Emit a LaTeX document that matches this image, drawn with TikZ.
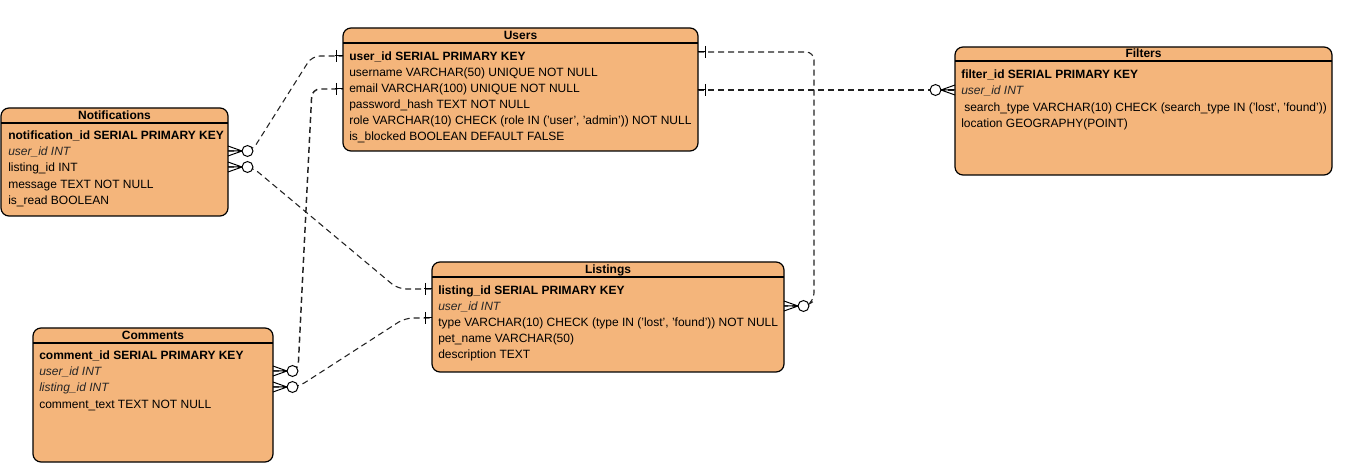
\documentclass[tikz,border=0pt]{standalone}
\usepackage{fontspec}
\setmainfont{Liberation Sans}
\definecolor{entfill}{HTML}{F4B57B}
\definecolor{relcol}{HTML}{222222}
\newcommand\ers{\fontsize{9}{11}\selectfont}
\newcommand\zmany[2]{%
  \begin{scope}[shift={(#1)}, xscale=#2]
    \draw[orn] (0,-5) -- (14,0) -- (0,5) (0,0) -- (14,0);
    \draw[orn, fill=white] (19.5,0) circle[radius=4.1pt];
  \end{scope}}
\newcommand\justone[2]{%
  \begin{scope}[shift={(#1)}, xscale=#2]
    \draw[orn] (0,0) -- (8,0) (7,-6) -- (7,6);
  \end{scope}}
\tikzset{
  ent/.style={draw=black, fill=entfill, line width=0.9pt, rounded corners=6pt,
    anchor=north west, inner sep=0pt, outer sep=0pt},
  hline/.style={line width=0.9pt, draw=black},
  ttl/.style={font=\ers\bfseries, anchor=base, inner sep=0pt},
  row/.style={font=\ers, anchor=base west, inner sep=0pt},
  pk/.style={row, font=\ers\bfseries},
  fk/.style={row, font=\ers\itshape, text=black!85},
  rel/.style={dash pattern=on 4.5pt off 3pt, line width=0.8pt, draw=relcol, rounded corners=6pt},
  relthick/.style={rel, line width=1.1pt},
  orn/.style={line width=0.75pt, draw=black},
}
\begin{document}
\begin{tikzpicture}[x=0.75pt, y=-0.75pt]
\useasboundingbox[fill=white] (0,0) rectangle (1361,463);

% ---------- Users ----------
\node[ent, minimum width=266.25pt, minimum height=92.25pt] (users) at (343,28) {};
\draw[hline] (users.west |- 0,43) -- (users.east |- 0,43);
\node[ttl] (usersT) at (520.5,40) {Users};
\node[pk] (u1) at (349,61) {user\_id SERIAL PRIMARY KEY};
\node[row] (u2) at (349,77) {username VARCHAR(50) UNIQUE NOT NULL};
\node[row] (u3) at (349,93) {email VARCHAR(100) UNIQUE NOT NULL};
\node[row] (u4) at (349,109) {password\_hash TEXT NOT NULL};
\node[row] (u5) at (349,125) {role VARCHAR(10) CHECK (role IN ('user', 'admin')) NOT NULL};
\node[row] (u6) at (349,141) {is\_blocked BOOLEAN DEFAULT FALSE};

% ---------- Notifications ----------
\node[ent, minimum width=170.25pt, minimum height=81pt] (notif) at (1,108) {};
\draw[hline] (notif.west |- 0,123) -- (notif.east |- 0,123);
\node[ttl] (notifT) at (114.5,120) {Notifications};
\node[pk] (n1) at (8,140) {notification\_id SERIAL PRIMARY KEY};
\node[fk] (n2) at (8,156) {user\_id INT};
\node[row] (n3) at (8,172) {listing\_id INT};
\node[row] (n4) at (8,189) {message TEXT NOT NULL};
\node[row] (n5) at (8,205) {is\_read BOOLEAN};

% ---------- Comments ----------
\node[ent, minimum width=180pt, minimum height=100.5pt] (comm) at (33,328) {};
\draw[hline] (comm.west |- 0,343) -- (comm.east |- 0,343);
\node[ttl] (commT) at (153,340) {Comments};
\node[pk] (c1) at (39,360) {comment\_id SERIAL PRIMARY KEY};
\node[fk] (c2) at (39,376) {user\_id INT};
\node[fk] (c3) at (39,392) {listing\_id INT};
\node[row] (c4) at (39,409) {comment\_text TEXT NOT NULL};

% ---------- Listings ----------
\node[ent, minimum width=264pt, minimum height=82.5pt] (list) at (432,262) {};
\draw[hline] (list.west |- 0,277) -- (list.east |- 0,277);
\node[ttl] (listT) at (608,274) {Listings};
\node[pk] (l1) at (438,295) {listing\_id SERIAL PRIMARY KEY};
\node[fk] (l2) at (438,311) {user\_id INT};
\node[row] (l3) at (438,327) {type VARCHAR(10) CHECK (type IN ('lost', 'found')) NOT NULL};
\node[row] (l4) at (438,343) {pet\_name VARCHAR(50)};
\node[row] (l5) at (438,359) {description TEXT};

% ---------- Filters ----------
\node[ent, minimum width=282.75pt, minimum height=96pt] (filt) at (955,47) {};
\draw[hline] (filt.west |- 0,61) -- (filt.east |- 0,61);
\node[ttl] (filtT) at (1143.5,58) {Filters};
\node[pk] (f1) at (961,79) {filter\_id SERIAL PRIMARY KEY};
\node[fk] (f2) at (961,95) {user\_id INT};
\node[row] (f3) at (964,112) {search\_type VARCHAR(10) CHECK (search\_type IN ('lost', 'found'))};
\node[row] (f4) at (961,128) {location GEOGRAPHY(POINT)};

% ---------- connection points ----------
\coordinate (nU) at (notif.east |- 0,151);
\coordinate (nL) at (notif.east |- 0,167);
\coordinate (uW1) at (users.west |- 0,56);
\coordinate (uW2) at (users.west |- 0,89);
\coordinate (uE1) at (users.east |- 0,52);
\coordinate (uE2) at (users.east |- 0,90);
\coordinate (lW1) at (list.west |- 0,289);
\coordinate (lW2) at (list.west |- 0,318);
\coordinate (lE) at (list.east |- 0,306);
\coordinate (cU) at (comm.east |- 0,371);
\coordinate (cL) at (comm.east |- 0,387);
\coordinate (fW) at (filt.west |- 0,90);

% ---------- connectors ----------
\draw[rel] (nU) -- (252,151) -- (312,56) -- (uW1);
\draw[rel] (nL) -- (252,167) -- (398,289) -- (lW1);
\draw[relthick] (cU) -- (298,371) -- (312,89) -- (uW2);
\draw[rel] (cL) -- (298,387) -- (405,318) -- (lW2);
\draw[rel] (uE1) -- (814,52) -- (814,301) -- (806,306) -- (lE);
\draw[relthick] (uE2) -- (fW);

% ---------- ends ----------
\zmany{nU}{1}
\zmany{nL}{1}
\zmany{cU}{1}
\zmany{cL}{1}
\zmany{lE}{1}
\zmany{fW}{-1}
\justone{uW1}{-1}
\justone{uW2}{-1}
\justone{lW1}{-1}
\justone{lW2}{-1}
\justone{uE1}{1}
\justone{uE2}{1}
\end{tikzpicture}
\end{document}
